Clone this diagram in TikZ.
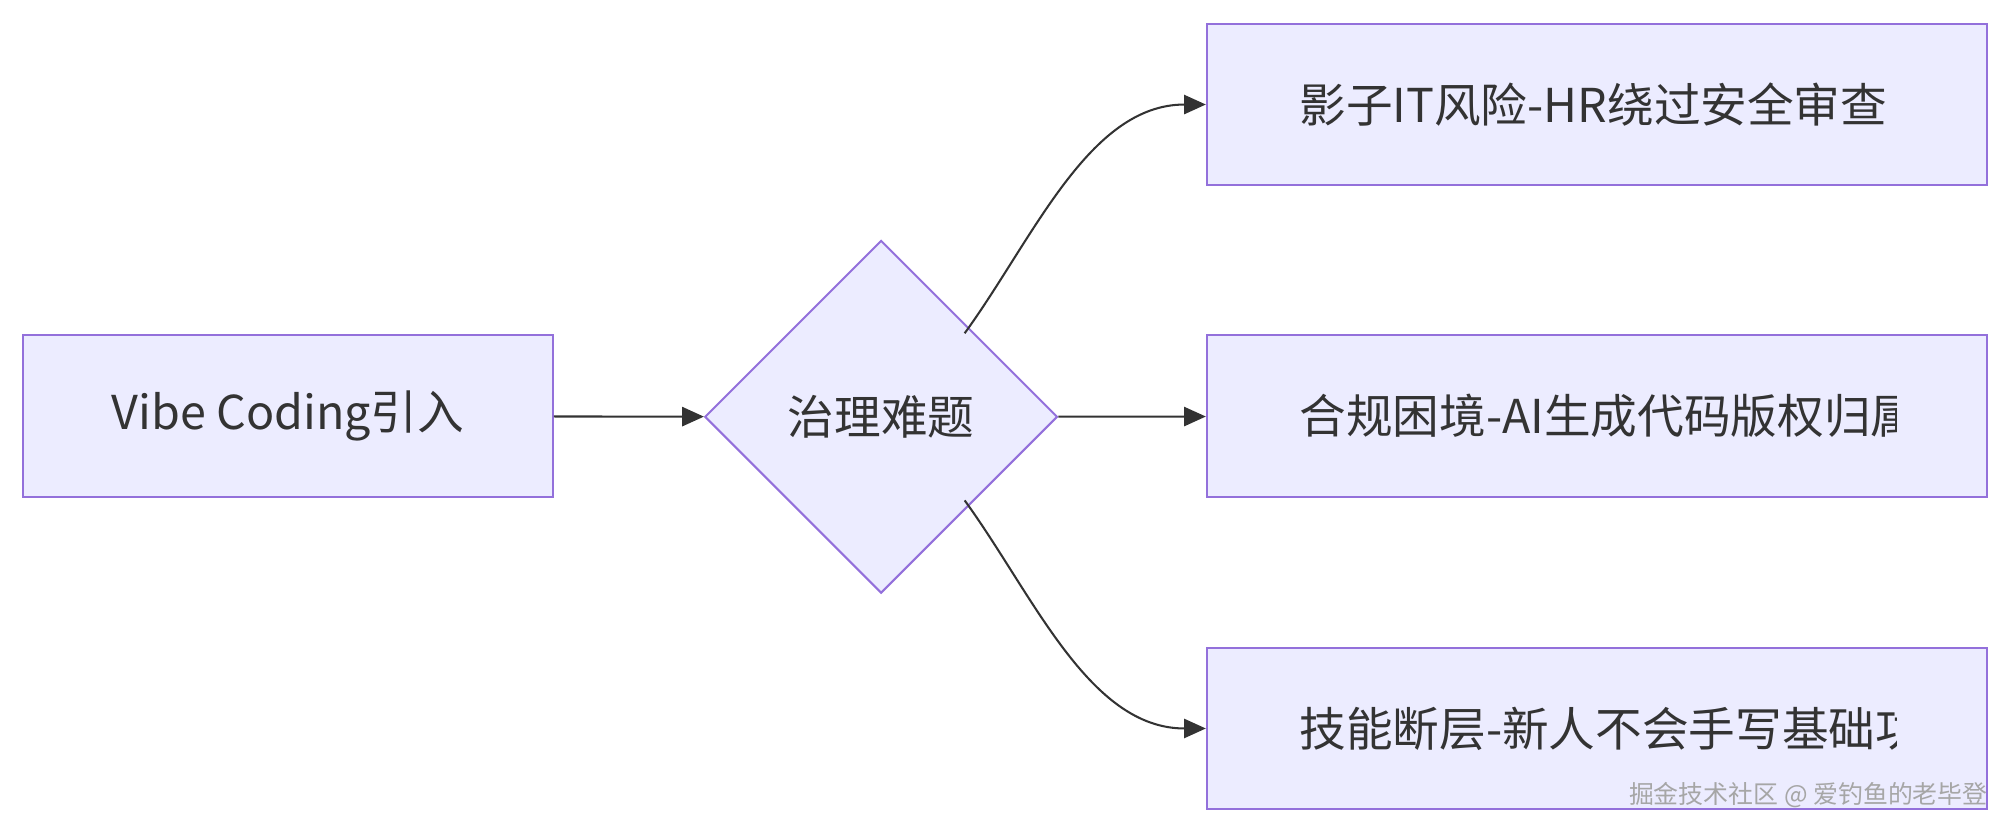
\documentclass[tikz,border=0pt]{standalone}
\usepackage{fontspec}
\setmainfont{Noto Sans CJK SC}
\usetikzlibrary{arrows.meta,shapes.geometric,positioning}
\definecolor{boxfill}{HTML}{ECECFF}
\definecolor{boxline}{HTML}{9370DB}
\definecolor{edge}{HTML}{333333}
\tikzset{
	box/.style={draw=boxline,fill=boxfill,line width=1.6bp,minimum height=126bp,inner sep=0pt},
	dia/.style={diamond,draw=boxline,fill=boxfill,line width=1.6bp,minimum size=275bp,inner sep=0pt},
	flow/.style={draw=edge,line width=1.6bp,-{Triangle[length=17bp,width=15bp]}},
	label/.style={font=\fontsize{36.5}{42}\selectfont,text=edge,inner sep=0pt}
}
\begin{document}
\begin{tikzpicture}
	\useasboundingbox (0bp,0bp) rectangle (1568bp,-650bp);
	\node (vibe) at (224.5bp,-324.5bp) [box,minimum width=413bp,label] {Vibe Coding引入};
	\node (gov)  at (687bp,-325bp)     [dia,label] {治理难题};
	\node (it)   at (1245bp,-81.5bp)   [box,minimum width=608bp] {};
	\node (law)  at (1245bp,-324.5bp)  [box,minimum width=608bp] {};
	\node (gap)  at (1245bp,-568bp)    [box,minimum width=608bp] {};

	\begin{scope}
		\clip (941bp,0bp) rectangle (1479bp,-650bp);
		\node (itt)  at (1013bp,-81.5bp)  [anchor=west,label] {影子IT风险-HR绕过安全审查};
		\node (lawt) at (1013bp,-324.5bp) [anchor=west,label] {合规困境-AI生成代码版权归属};
		\node (gapt) at (1013bp,-568bp)   [anchor=west,label] {技能断层-新人不会手写基础功能};
	\end{scope}

	\draw [flow] (gov.north east) ++(-4bp,-4bp) to[out=54,in=180,looseness=0.9] (it);
	\draw [flow] (vibe) -- (gov);
	\draw [flow] (gov) -- (law);
	\draw [flow] (gov.south east) ++(-4bp,4bp) to[out=-54,in=180,looseness=0.9] (gap);

	\node (mark) at (1550bp,-620bp) [anchor=east,inner sep=0pt,text=gray!70,font=\fontsize{19.5}{22}\selectfont] {掘金技术社区 @ 爱钓鱼的老毕登};
\end{tikzpicture}
\end{document}
